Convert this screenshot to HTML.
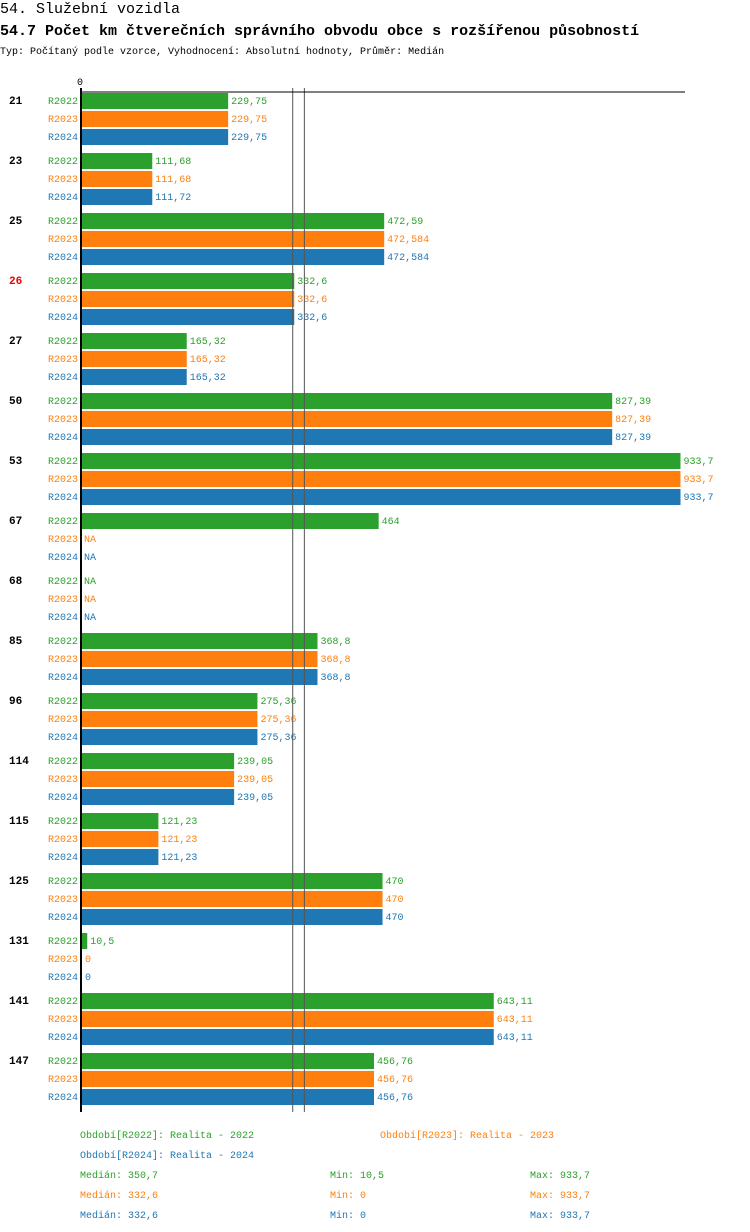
<!DOCTYPE html>
<html><head><meta charset="utf-8"><style>
body{margin:0;background:#fff;}
svg{display:block;font-family:"Liberation Mono",monospace;}
</style></head><body>
<svg id="chart" width="750" height="1232" xmlns="http://www.w3.org/2000/svg">
<text x="0" y="13" font-size="15">54. Služební vozidla</text>
<text x="0" y="35" font-size="15" font-weight="bold">54.7 Počet km čtverečních správního obvodu obce s rozšířenou působností</text>
<text x="0" y="54" font-size="10">Typ: Počítaný podle vzorce, Vyhodnocení: Absolutní hodnoty, Průměr: Medián</text>
<g id="plot"></g>
<g font-size="10">
<text x="80" y="1138" fill="#2ca02c">Období[R2022]: Realita - 2022</text>
<text x="380" y="1138" fill="#ff7f0e">Období[R2023]: Realita - 2023</text>
<text x="80" y="1158" fill="#1f77b4">Období[R2024]: Realita - 2024</text>
<text x="80" y="1178" fill="#2ca02c">Medián: 350,7</text>
<text x="330" y="1178" fill="#2ca02c">Min: 10,5</text>
<text x="530" y="1178" fill="#2ca02c">Max: 933,7</text>
<text x="80" y="1198" fill="#ff7f0e">Medián: 332,6</text>
<text x="330" y="1198" fill="#ff7f0e">Min: 0</text>
<text x="530" y="1198" fill="#ff7f0e">Max: 933,7</text>
<text x="80" y="1218" fill="#1f77b4">Medián: 332,6</text>
<text x="330" y="1218" fill="#1f77b4">Min: 0</text>
<text x="530" y="1218" fill="#1f77b4">Max: 933,7</text>
</g>
</svg>
<script>
const categories=["21","23","25","26","27","50","53","67","68","85","96","114","115","125","131","141","147"];
const seriesNames=["R2022","R2023","R2024"];
const r2022=[229.75,111.68,472.59,332.6,165.32,827.39,933.7,464,null,368.8,275.36,239.05,121.23,470,10.5,643.11,456.76];
const r2023=[229.75,111.68,472.584,332.6,165.32,827.39,933.7,null,null,368.8,275.36,239.05,121.23,470,0,643.11,456.76];
const r2024=[229.75,111.72,472.584,332.6,165.32,827.39,933.7,null,null,368.8,275.36,239.05,121.23,470,0,643.11,456.76];
const labels2022=["229,75","111,68","472,59","332,6","165,32","827,39","933,7","464","NA","368,8","275,36","239,05","121,23","470","10,5","643,11","456,76"];
const labels2023=["229,75","111,68","472,584","332,6","165,32","827,39","933,7","NA","NA","368,8","275,36","239,05","121,23","470","0","643,11","456,76"];
const labels2024=["229,75","111,72","472,584","332,6","165,32","827,39","933,7","NA","NA","368,8","275,36","239,05","121,23","470","0","643,11","456,76"];
const medians=[350.7,332.6,332.6];
const highlighted=["26"];
const maxVal=933.7;

const NS="http://www.w3.org/2000/svg";
const plot=document.getElementById('plot');
const colors=["#2ca02c","#ff7f0e","#1f77b4"];
const X0=80.5, XW=600, Y0=93, GROUP=60, STEP=18, BH=16;
const xs=v=>X0+v/maxVal*XW;
function el(t,a){const e=document.createElementNS(NS,t);for(const k in a)e.setAttribute(k,a[k]);plot.appendChild(e);return e;}
const series=[r2022,r2023,r2024], lbls=[labels2022,labels2023,labels2024];
categories.forEach((c,i)=>{
  const gy=Y0+i*GROUP;
  const t=el('text',{x:9,y:gy+11,'font-size':11,'font-weight':'bold',fill:highlighted.includes(c)?'#e00':'#000'});
  t.textContent=c;
  
  
  series.forEach((s,j)=>{
    const y=gy+j*STEP;
    const sl=el('text',{x:78,y:y+11,'font-size':10,fill:colors[j],'text-anchor':'end'});
    sl.textContent=seriesNames[j];
    
    
    const v=s[i];
    let end=84;
    if(v!==null){
      const w=xs(v)-82;
      if(w>0){
        const r=el('rect',{x:82,y:y,width:w,height:BH,fill:colors[j]});
        
        
      }
      end=Math.max(xs(v),82)+3;
    }
    const vl=el('text',{x:end,y:y+11,'font-size':10,fill:colors[j]});
    vl.textContent=lbls[j][i];
    
    
  });
});
const yEnd=Y0+categories.length*GROUP-1;
[[medians[2],'#555'],[medians[0],'#555']].forEach((m,k)=>{
  const l=el('line',{x1:xs(m[0])-1.5,x2:xs(m[0])-1.5,y1:88,y2:yEnd,stroke:m[1],'stroke-width':1});
  
  
});
const ax=el('line',{x1:80,x2:685,y1:92,y2:92,stroke:'#000','stroke-width':1});


const ay=el('line',{x1:81,x2:81,y1:88,y2:yEnd,stroke:'#000','stroke-width':2});


const z=el('text',{x:80,y:85,'font-size':10,'text-anchor':'middle'});
z.textContent='0';


</script>
</body></html>
